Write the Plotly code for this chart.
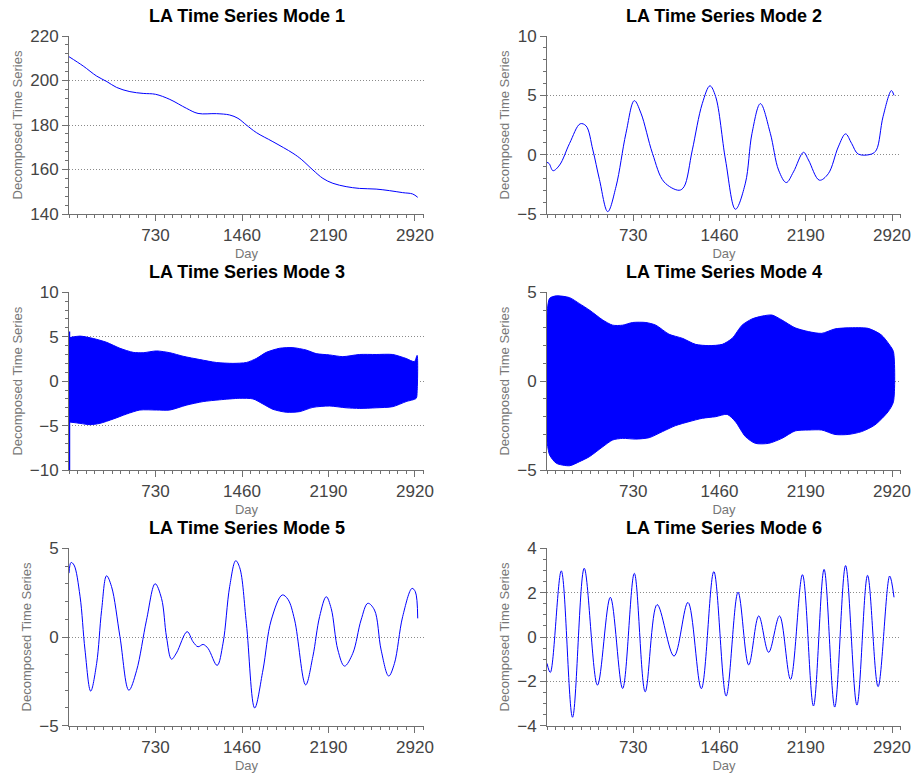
import plotly.graph_objects as go

# ---------------- data ----------------
mode1_days = [0, 120, 233, 320, 401, 514, 626, 730, 851, 991, 1089, 1244, 1356, 1426,
              1497, 1581, 1721, 1890, 1960, 2058, 2143, 2227, 2339, 2451, 2592, 2704,
              2816, 2900, 2943]
mode1_vals = [210.7, 206.5, 202.0, 199.5, 196.9, 195.0, 194.2, 193.8, 191.5, 187.5, 185.2,
              185.1, 184.5, 183.0, 180.0, 176.6, 172.5, 167.3, 164.6, 159.8, 156.0, 153.8,
              152.3, 151.5, 151.2, 150.5, 149.6, 149.0, 147.5]

mode2_days = [0, 18, 51, 107, 191, 281, 331, 388, 444, 514, 584, 668, 739, 795, 893, 991,
              1118, 1160, 1230, 1314, 1379, 1427, 1511, 1595, 1679, 1735, 1806, 1890,
              1960, 2025, 2086, 2171, 2213, 2305, 2381, 2465, 2527, 2578, 2634, 2746,
              2788, 2844, 2915, 2937]
mode2_vals = [-0.65, -0.75, -1.35, -0.87, 0.95, 2.6, 2.42, 0.4, -2.1, -4.8, -2.7, 1.8, 4.55,
              3.5, 0.1, -2.3, -3.0, -2.7, 0.4, 4.3, 5.8, 4.9, -0.45, -4.6, -2.4, 1.8, 4.3,
              1.8, -1.3, -2.35, -1.45, 0.2, -0.45, -2.15, -1.6, 0.65, 1.75, 0.95, 0.05,
              0.05, 0.4, 3.2, 5.4, 5.0]

mode3_upper_days = [5, 93, 205, 317, 430, 542, 626, 739, 851, 963, 1104, 1244, 1384, 1497,
                    1581, 1665, 1777, 1890, 2002, 2086, 2199, 2311, 2451, 2592, 2732, 2845,
                    2915, 2938]
mode3_upper_vals = [4.9, 5.07, 4.8, 4.37, 3.7, 3.24, 3.2, 3.4, 3.2, 2.8, 2.43, 2.1, 2.0,
                    2.1, 2.55, 3.24, 3.7, 3.77, 3.5, 3.1, 2.95, 2.76, 3.0, 3.0, 3.0, 2.55,
                    2.2, 2.9]
mode3_lower_days = [5, 93, 177, 261, 374, 486, 598, 739, 851, 991, 1132, 1272, 1441, 1553,
                    1637, 1721, 1834, 1946, 2058, 2199, 2339, 2451, 2592, 2732, 2845, 2930,
                    2938]
mode3_lower_vals = [-4.6, -4.75, -4.9, -4.75, -4.26, -3.7, -3.25, -3.25, -3.25, -2.7, -2.3,
                    -2.1, -1.93, -2.0, -2.57, -3.17, -3.5, -3.43, -2.95, -2.8, -3.0, -3.07,
                    -3.0, -2.87, -2.3, -1.93, -1.2]
mode3_spike_days = [4, 4]
mode3_spike_vals = [5.6, -11.0]

mode4_upper_days = [0, 22, 79, 191, 275, 359, 472, 556, 640, 724, 837, 921, 1033, 1146,
                    1258, 1370, 1483, 1567, 1651, 1735, 1820, 1904, 1988, 2100, 2212, 2325,
                    2437, 2549, 2718, 2830, 2900, 2932]
mode4_upper_vals = [3.7, 4.66, 4.8, 4.7, 4.36, 4.0, 3.44, 3.15, 3.15, 3.3, 3.3, 3.15, 2.64,
                    2.41, 2.07, 2.0, 2.07, 2.41, 3.15, 3.5, 3.66, 3.72, 3.44, 3.0, 2.79, 2.69,
                    2.94, 3.0, 2.97, 2.6, 2.03, 1.66]
mode4_lower_days = [0, 22, 79, 191, 275, 359, 472, 556, 640, 752, 865, 977, 1089, 1202,
                    1314, 1427, 1525, 1595, 1679, 1763, 1876, 1988, 2100, 2212, 2325, 2437,
                    2549, 2662, 2774, 2887, 2932]
mode4_lower_vals = [-3.4, -4.15, -4.62, -4.76, -4.53, -4.25, -3.69, -3.31, -3.22, -3.26,
                    -3.18, -2.84, -2.5, -2.28, -2.09, -2.0, -1.87, -2.28, -3.12, -3.5, -3.5,
                    -3.22, -2.8, -2.75, -2.75, -3.0, -3.0, -2.84, -2.47, -1.72, -1.16]

mode5_days = [0, 17, 42, 93, 135, 183, 233, 275, 317, 359, 430, 505, 570, 654, 727, 781,
              823, 865, 907, 997, 1047, 1089, 1132, 1174, 1250, 1300, 1356, 1407, 1441,
              1497, 1567, 1637, 1707, 1800, 1848, 1904, 1997, 2058, 2115, 2171, 2213, 2269,
              2325, 2395, 2465, 2522, 2578, 2634, 2698, 2746, 2816, 2895, 2923, 2943]
mode5_vals = [3.6, 4.2, 4.06, 2.3, -0.73, -3.05, -1.5, 1.5, 3.45, 2.84, 0.02, -3.0, -1.9,
              0.95, 3.0, 2.17, 0.0, -1.25, -0.9, 0.3, -0.27, -0.55, -0.42, -0.65, -1.6,
              -0.35, 2.84, 4.3, 3.9, 0.77, -4.0, -1.86, 0.96, 2.37, 2.12, 0.96, -2.7, -1.1,
              1.15, 2.27, 1.6, -0.73, -1.64, -0.92, 0.96, 1.9, 1.52, -0.73, -2.2, -1.5,
              1.15, 2.74, 2.55, 1.05]

mode6_days = [0, 28, 121, 216, 315, 427, 536, 640, 739, 831, 932, 1075, 1193, 1306, 1412,
              1516, 1617, 1707, 1792, 1876, 1968, 2061, 2162, 2255, 2345, 2435, 2527, 2623,
              2713, 2802, 2900, 2937]
mode6_vals = [-1.19, -1.6, 2.98, -3.62, 3.1, -2.17, 1.79, -2.32, 2.87, -2.47, 1.46, -0.86,
              1.56, -2.33, 2.95, -2.66, 2.02, -1.26, 0.95, -0.69, 0.95, -1.91, 2.81, -3.11,
              3.05, -3.16, 3.22, -3.07, 2.78, -2.24, 2.75, 1.79]

titles = ["LA Time Series Mode 1", "LA Time Series Mode 2", "LA Time Series Mode 3",
          "LA Time Series Mode 4", "LA Time Series Mode 5", "LA Time Series Mode 6"]
x_tick_vals = [730, 1460, 2190, 2920]
x_tick_text = ["730", "1460", "2190", "2920"]
y_title = "Decomposed Time Series"
x_title = "Day"

# ---------------- layout geometry ----------------
W, H = 912, 773
col_px = [(69, 424), (547, 901)]
row_px = [(36, 214), (292.3, 470), (548.3, 725.7)]
title_y_px = [16.5, 272, 528]
yspecs = [  # range, dtick, minor dtick
    ([140, 220], 20, 4),
    ([-5, 10], 5, 1),
    ([-10, 10], 5, 1),
    ([-5, 5], 5, 1),
    ([-5, 5], 5, 1),
    ([-4, 4], 2, 0.5),
]

FONT = "Liberation Sans, Arial, sans-serif"
BLUE = "#0000ff"
AXC = "#707070"

def px_x(p):
    return p / W

def px_y(p):
    return 1 - p / H

fig = go.Figure()

def ax_names(i):
    n = "" if i == 0 else str(i + 1)
    return "x" + n, "y" + n, "xaxis" + n, "yaxis" + n

line_sets = {
    0: (mode1_days, mode1_vals),
    1: (mode2_days, mode2_vals),
    4: (mode5_days, mode5_vals),
    5: (mode6_days, mode6_vals),
}
for i, (d, v) in line_sets.items():
    xa, ya, _, _ = ax_names(i)
    fig.add_trace(go.Scatter(x=d, y=v, mode="lines", xaxis=xa, yaxis=ya,
                             line=dict(color=BLUE, width=1, shape="spline", smoothing=1.0),
                             showlegend=False, hoverinfo="skip"))

env_sets = {
    2: (mode3_upper_days, mode3_upper_vals, mode3_lower_days, mode3_lower_vals),
    3: (mode4_upper_days, mode4_upper_vals, mode4_lower_days, mode4_lower_vals),
}
for i, (ud, uv, ld, lv) in env_sets.items():
    xa, ya, _, _ = ax_names(i)
    fig.add_trace(go.Scatter(x=list(ud) + list(ld)[::-1], y=list(uv) + list(lv)[::-1],
                             mode="lines", fill="toself", fillcolor=BLUE,
                             line=dict(color=BLUE, width=1, shape="spline", smoothing=0.7),
                             xaxis=xa, yaxis=ya, showlegend=False, hoverinfo="skip"))

xa, ya, _, _ = ax_names(2)
fig.add_trace(go.Scatter(x=mode3_spike_days, y=mode3_spike_vals, mode="lines",
                         line=dict(color=BLUE, width=1.5), xaxis=xa, yaxis=ya,
                         showlegend=False, hoverinfo="skip"))

layout = dict(width=W, height=H, margin=dict(l=0, r=0, t=0, b=0),
              paper_bgcolor="white", plot_bgcolor="white", showlegend=False,
              font=dict(family=FONT, color="#444"))
annotations = []
for i in range(6):
    r, c = divmod(i, 2)
    x0, x1 = col_px[c]
    y0, y1 = row_px[r]
    xa, ya, xk, yk = ax_names(i)
    yr, ydt, ymin = yspecs[i]
    layout[xk] = dict(domain=[px_x(x0), px_x(x1)], anchor=ya, range=[0, 2996],
                      tickmode="array", tickvals=x_tick_vals, ticktext=x_tick_text,
                      ticks="outside", ticklen=6, tickcolor=AXC, tickwidth=1,
                      ticklabeloverflow="allow",
                      showline=True, linecolor=AXC, linewidth=1, showgrid=False,
                      zeroline=False, automargin=False,
                      tickfont=dict(family=FONT, size=17, color="#444"),
                      minor=dict(tick0=0, dtick=73, ticks="outside", ticklen=3,
                                 tickcolor=AXC, showgrid=False),
                      title=dict(text=x_title, standoff=4,
                                 font=dict(family=FONT, size=13, color="#777")))
    layout[yk] = dict(domain=[px_y(y1), px_y(y0)], anchor=xa, range=yr,
                      tick0=yr[0], dtick=ydt, ticks="outside", ticklen=6, tickcolor=AXC,
                      ticklabeloverflow="allow",
                      showline=True, linecolor=AXC, linewidth=1,
                      showgrid=True, gridcolor="#8a8a8a", gridwidth=1, griddash="1px,2px",
                      zeroline=False, automargin=False,
                      tickfont=dict(family=FONT, size=17, color="#444"),
                      minor=dict(tick0=yr[0], dtick=ymin, ticks="outside", ticklen=3,
                                 tickcolor=AXC, showgrid=False),
                      title=dict(text=y_title, standoff=4,
                                 font=dict(family=FONT, size=13, color="#777")))
    annotations.append(dict(text="<b>%s</b>" % titles[i], xref="paper", yref="paper",
                            x=px_x((x0 + x1) / 2), y=px_y(title_y_px[r]),
                            xanchor="center", yanchor="middle", showarrow=False,
                            font=dict(family=FONT, size=18, color="black")))
layout["annotations"] = annotations
fig.update_layout(**layout)
# remove the page's default 8px body margin so the 912x773 figure fills the window exactly
fig.write_html("out.html", config={"displayModeBar": False},
               post_script="document.body.style.margin='0px';"
                           "document.body.style.overflow='hidden';")
